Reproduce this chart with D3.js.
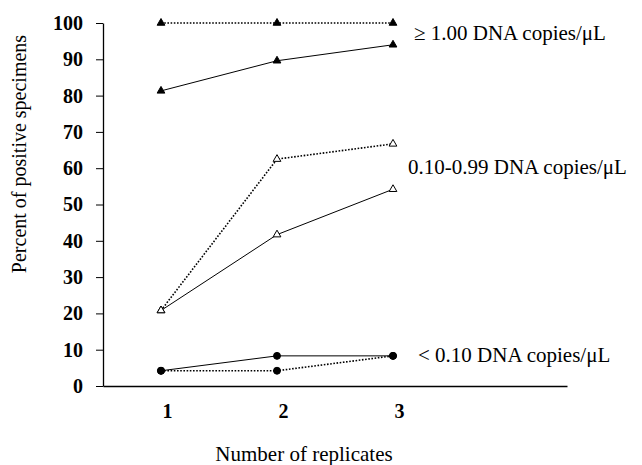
<!DOCTYPE html>
<html>
<head>
<meta charset="utf-8">
<script src="https://cdn.jsdelivr.net/npm/d3@7"></script>
<style>
  body { margin: 0; background: #fff; }
  text { font-family: "Liberation Serif", "Times New Roman", serif; }
</style>
</head>
<body>
<svg id="chart"></svg>
<script>
const replicates = [1, 2, 3];
const yTicks = [0, 10, 20, 30, 40, 50, 60, 70, 80, 90, 100];

// ≥ 1.00 copies/µL
const highDotted = [100, 100, 100];
const highSolid = [81.3, 89.6, 94.0];
// 0.10-0.99 copies/µL
const midDotted = [20.8, 62.5, 66.7];
const midSolid = [20.8, 41.7, 54.2];
// < 0.10 copies/µL
const lowSolid = [4.2, 8.3, 8.3];
const lowDotted = [4.2, 4.2, 8.3];

const groupLabels = ["≥ 1.00 DNA copies/μL", "0.10-0.99 DNA copies/μL", "< 0.10 DNA copies/μL"];
const groupLabelValues = [97.3, 60.3, 8.5];

const width = 642, height = 465;
const svg = d3.select("#chart").attr("width", width).attr("height", height);

const x = d3.scaleLinear().domain([0.5, 4.5]).range([103, 567]);
const y = d3.scaleLinear().domain([0, 100]).range([386, 23]);

// y axis
svg.append("g")
  .attr("transform", `translate(${x(0.5)},0)`)
  .call(d3.axisLeft(y).tickValues(yTicks).tickSize(7).tickPadding(13).tickSizeOuter(0))
  .call(g => g.select(".domain").attr("stroke-width", 1.3))
  .call(g => g.selectAll("text").attr("font-size", 20).attr("font-weight", "bold")
    .attr("font-family", "Liberation Serif, serif"));

// x axis
svg.append("g")
  .attr("transform", `translate(0,${y(0)})`)
  .call(d3.axisBottom(x).tickValues(replicates).tickSize(0).tickPadding(18).tickFormat(d3.format("d")))
  .call(g => g.select(".domain").attr("stroke-width", 1.3))
  .call(g => g.selectAll("text").attr("font-size", 20).attr("font-weight", "bold")
    .attr("dx", 6).attr("font-family", "Liberation Serif, serif"));

// axis titles
svg.append("text")
  .attr("transform", `translate(26,154) rotate(-90)`)
  .attr("text-anchor", "middle")
  .attr("font-size", 20)
  .text("Percent of positive specimens");

svg.append("text")
  .attr("x", 304)
  .attr("y", 461)
  .attr("text-anchor", "middle")
  .attr("font-size", 21)
  .text("Number of replicates");

const line = d3.line().x((d, i) => x(replicates[i])).y(d => y(d));

const series = [
  { values: highDotted, dotted: true, marker: "tri-fill" },
  { values: highSolid, dotted: false, marker: "tri-fill" },
  { values: midDotted, dotted: true, marker: "tri-open" },
  { values: midSolid, dotted: false, marker: "tri-open" },
  { values: lowSolid, dotted: false, marker: "circle" },
  { values: lowDotted, dotted: true, marker: "circle" },
];

series.forEach(s => {
  svg.append("path")
    .attr("d", line(s.values))
    .attr("fill", "none")
    .attr("stroke", "#000")
    .attr("stroke-width", s.dotted ? 1.6 : 1)
    .attr("stroke-dasharray", s.dotted ? "1.6,1.6" : null);
});

const tri = d3.symbol().type(d3.symbolTriangle).size(26);
const circ = d3.symbol().type(d3.symbolCircle).size(38);

series.forEach(s => {
  svg.append("g").selectAll("path")
    .data(s.values)
    .join("path")
    .attr("transform", (d, i) => `translate(${x(replicates[i])},${y(d)})`)
    .attr("d", s.marker === "circle" ? circ() : tri())
    .attr("fill", s.marker === "tri-open" ? "#fff" : "#000")
    .attr("stroke", "#000")
    .attr("stroke-width", 1);
});

// group labels
svg.append("g").selectAll("text")
  .data(groupLabels)
  .join("text")
  .attr("x", (d, i) => [414, 408, 418][i])
  .attr("y", (d, i) => y(groupLabelValues[i]))
  .attr("dy", "0.35em")
  .attr("font-size", 21)
  .text(d => d);
</script>
</body>
</html>
